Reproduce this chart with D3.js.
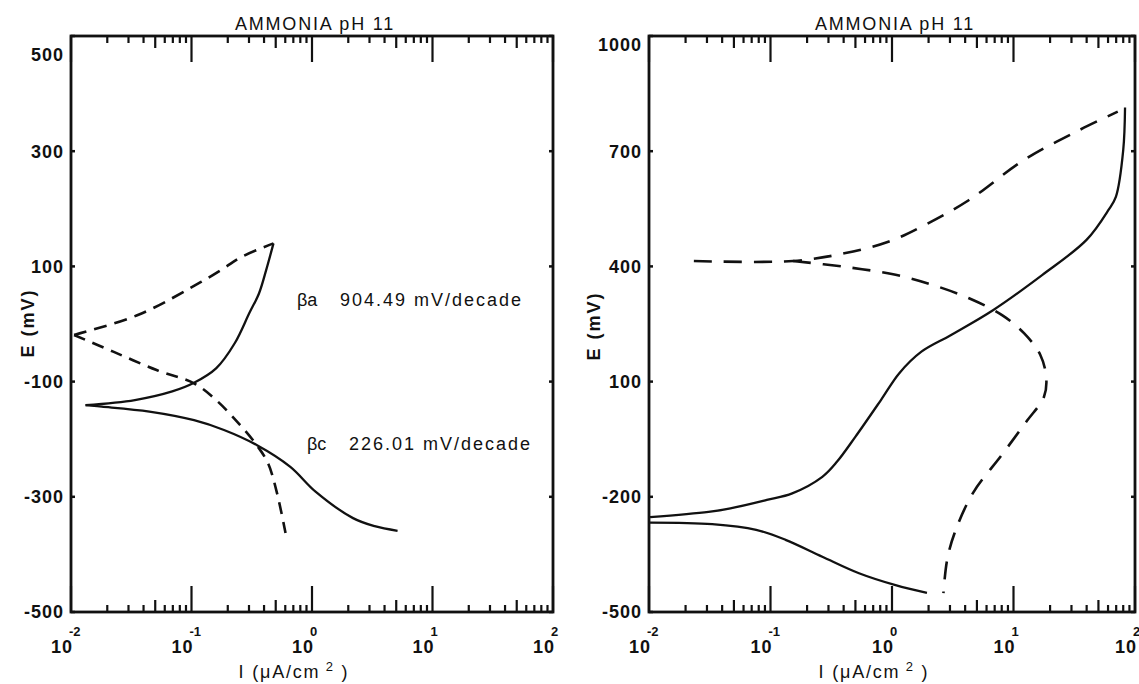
<!DOCTYPE html>
<html><head><meta charset="utf-8">
<script src="https://cdn.jsdelivr.net/npm/d3@7"></script>
<style>body{margin:0;background:#fff}svg{display:block}</style>
</head><body><svg id="chart" width="1139" height="684"></svg>
<script>
// ---------- data ----------
const panelTitles = ["AMMONIA pH 11", "AMMONIA pH 11"];
const xTickExponents = [-2, -1, 0, 1, 2];
const leftYTicks = [-500, -300, -100, 100, 300, 500];
const rightYTicks = [-500, -200, 100, 400, 700, 1000];
const xAxisTitle = "I (\u03bcA/cm";
const yAxisTitle = "E (mV)";
const annotationLabels = ["\u03b2a", "904.49 mV/decade", "\u03b2c", "226.01 mV/decade"];

// left panel (I in uA/cm2, E in mV)
const leftAnodicI = [0.0132, 0.0339, 0.0692, 0.105, 0.160, 0.229, 0.302, 0.363, 0.417, 0.479];
const leftAnodicE = [-141, -132, -117, -102, -77, -33, 19, 53, 94, 140];
const leftCathodicI = [0.0132, 0.0180, 0.0447, 0.105, 0.186, 0.347, 0.661, 1.07, 2.19, 3.31, 5.13];
const leftCathodicE = [-141, -143.5, -152, -167, -184, -210, -248, -291, -337, -351, -359];
const leftAnodicTafelI = [0.0106, 0.0363, 0.120, 0.186, 0.263, 0.479];
const leftAnodicTafelE = [-19, 16, 73, 97, 117, 140];
const leftCathodicTafelI = [0.0106, 0.0224, 0.0513, 0.105, 0.160, 0.245, 0.347, 0.432, 0.513, 0.603];
const leftCathodicTafelE = [-19, -48, -80, -103, -132, -172, -210, -242, -294, -363];

// right panel
const rightAnodicI = [0.0102, 0.0309, 0.0468, 0.0933, 0.151, 0.267, 0.352, 0.499, 0.811, 1.148, 1.746, 3.04, 6.78, 17.3, 39.9, 60.5, 69.7, 80.0, 82.8];
const rightAnodicE = [-253, -239, -230, -208, -191, -148, -109, -44, 52, 122, 178, 221, 286, 378, 469, 547, 582, 703, 814];
const rightCathodicI = [0.0102, 0.0331, 0.0762, 0.133, 0.267, 0.535, 1.07, 1.94];
const rightCathodicE = [-267, -271, -286, -312, -356, -399, -430, -450];
const rightDashUpperI = [0.0234, 0.153, 0.405, 0.933, 1.87, 4.31, 12.2, 34.8, 72.1];
const rightDashUpperE = [414, 414, 434, 464, 508, 573, 677, 755, 803];
const rightDashLowerI = [0.153, 0.405, 1.07, 2.15, 4.31, 8.05, 12.2, 16.6, 18.6, 17.8, 12.7, 8.05, 4.62, 3.27, 2.84, 2.65];
const rightDashLowerE = [414, 399, 378, 352, 317, 273, 226, 170, 110, 60, -5, -90, -191, -295, -365, -451];

// ---------- drawing ----------
const svg = d3.select("#chart");
svg.append("rect").attr("width", 1139).attr("height", 684).attr("fill", "#fff");
const FONT = "'Liberation Sans', Arial, Helvetica, sans-serif";
const INK = "#111";

const zip = (a, b) => a.map((v, i) => [v, b[i]]);

const panels = [
  { box: [71, 553, 36, 612], yTicks: leftYTicks, title: panelTitles[0], topLabelShift: 19, yTitleX: 28, yTitleY: 323,
    series: [
      { d: zip(leftAnodicI, leftAnodicE), dash: null },
      { d: zip(leftCathodicI, leftCathodicE), dash: null },
      { d: zip(leftAnodicTafelI, leftAnodicTafelE), dash: "13,8" },
      { d: zip(leftCathodicTafelI, leftCathodicTafelE), dash: "12,8" }
    ],
    annotations: true },
  { box: [649, 1135, 36, 612], yTicks: rightYTicks, title: panelTitles[1], topLabelShift: 9, yTitleX: 594, yTitleY: 326,
    series: [
      { d: zip(rightAnodicI, rightAnodicE), dash: null },
      { d: zip(rightCathodicI, rightCathodicE), dash: null },
      { d: zip(rightDashUpperI, rightDashUpperE), dash: "18,12" },
      { d: zip(rightDashLowerI, rightDashLowerE), dash: "18,12" }
    ],
    annotations: false }
];

panels.forEach(p => {
  const [x0, x1, y0, y1] = p.box;
  const yMin = d3.min(p.yTicks), yMax = d3.max(p.yTicks);
  const x = d3.scaleLog().domain([Math.pow(10, d3.min(xTickExponents)), Math.pow(10, d3.max(xTickExponents))]).range([x0, x1]);
  const y = d3.scaleLinear().domain([yMin, yMax]).range([y1, y0]);
  const g = svg.append("g");

  // curves
  const line = d3.line().x(d => x(d[0])).y(d => y(d[1])).curve(d3.curveCatmullRom.alpha(0.5));
  p.series.forEach(s => {
    g.append("path").attr("d", line(s.d)).attr("fill", "none").attr("stroke", INK)
      .attr("stroke-width", s.dash ? 2.6 : 2.3).attr("stroke-dasharray", s.dash).attr("stroke-linejoin", "round");
  });

  // frame
  g.append("rect").attr("x", x0).attr("y", y0).attr("width", x1 - x0).attr("height", y1 - y0)
    .attr("fill", "none").attr("stroke", INK).attr("stroke-width", 2.8);

  // x ticks (major + minor) top and bottom, inward
  const minor = [];
  for (let e = d3.min(xTickExponents); e < d3.max(xTickExponents); e++)
    for (let k = 2; k <= 9; k++) minor.push({ v: k * Math.pow(10, e), len: k === 5 ? 12 : 7 });
  const major = xTickExponents.map(e => ({ v: Math.pow(10, e), len: 26 }));
  const allTicks = minor.concat(major);
  g.selectAll(null).data(allTicks).enter().append("line")
    .attr("x1", d => x(d.v)).attr("x2", d => x(d.v)).attr("y1", y1).attr("y2", d => y1 - d.len)
    .attr("stroke", INK).attr("stroke-width", 2.2);
  g.selectAll(null).data(allTicks).enter().append("line")
    .attr("x1", d => x(d.v)).attr("x2", d => x(d.v)).attr("y1", y0).attr("y2", d => y0 + d.len)
    .attr("stroke", INK).attr("stroke-width", 2.2);

  // y ticks both sides (small)
  g.selectAll(null).data(p.yTicks).enter().append("line")
    .attr("x1", x0).attr("x2", x0 + 4).attr("y1", d => y(d)).attr("y2", d => y(d)).attr("stroke", INK).attr("stroke-width", 2.5);
  g.selectAll(null).data(p.yTicks).enter().append("line")
    .attr("x1", x1).attr("x2", x1 - 4).attr("y1", d => y(d)).attr("y2", d => y(d)).attr("stroke", INK).attr("stroke-width", 2.5);

  // y tick labels
  g.selectAll(null).data(p.yTicks).enter().append("text")
    .attr("x", x0 - 7).attr("y", d => y(d) + (d === yMax ? p.topLabelShift : 0)).attr("dy", "0.36em")
    .attr("text-anchor", "end").attr("font-family", FONT).attr("font-weight", "bold").attr("font-size", 18)
    .attr("letter-spacing", 1).attr("fill", INK).text(d => d);

  // x tick labels 10^n
  xTickExponents.forEach(e => {
    const tx = x(Math.pow(10, e));
    g.append("text").attr("x", tx + 2).attr("y", y1 + 41).attr("text-anchor", "end")
      .attr("font-family", FONT).attr("font-weight", "bold").attr("font-size", 18).attr("letter-spacing", 1)
      .attr("fill", INK).text("10");
    g.append("text").attr("x", tx - 2).attr("y", y1 + 24).attr("text-anchor", "start")
      .attr("font-family", FONT).attr("font-weight", "bold").attr("font-size", 13)
      .attr("fill", INK).text(e);
  });

  // title
  g.append("text").attr("x", (x0 + x1) / 2 + 3).attr("y", 30).attr("text-anchor", "middle")
    .attr("font-family", FONT).attr("font-size", 18).attr("letter-spacing", 1.8).attr("fill", INK).text(p.title);

  // x axis title
  const xt = g.append("text").attr("x", (x0 + x1) / 2 - 18).attr("y", 678).attr("text-anchor", "middle")
    .attr("font-family", FONT).attr("font-size", 18).attr("letter-spacing", 1.8).attr("fill", INK);
  xt.append("tspan").text(xAxisTitle);
  xt.append("tspan").attr("dy", -7).attr("font-size", 13).text(" 2");
  xt.append("tspan").attr("dy", 7).text(" )");

  // y axis title
  g.append("text").attr("transform", `translate(${p.yTitleX},${p.yTitleY}) rotate(-90)`).attr("text-anchor", "middle")
    .attr("dy", "0.35em").attr("font-family", FONT).attr("font-size", 18).attr("font-weight", "bold").attr("letter-spacing", 2)
    .attr("fill", INK).text(yAxisTitle);

  if (p.annotations) {
    const ann = [[annotationLabels[0], annotationLabels[1], 297, 340, 306], [annotationLabels[2], annotationLabels[3], 307, 349, 450]];
    ann.forEach(a => {
      g.append("text").attr("x", a[2]).attr("y", a[4]).attr("font-family", FONT).attr("font-size", 18)
        .attr("fill", INK).text(a[0]);
      g.append("text").attr("x", a[3]).attr("y", a[4]).attr("font-family", FONT).attr("font-size", 18)
        .attr("letter-spacing", 2).attr("fill", INK).text(a[1]);
    });
  }
});
</script>
</body></html>
